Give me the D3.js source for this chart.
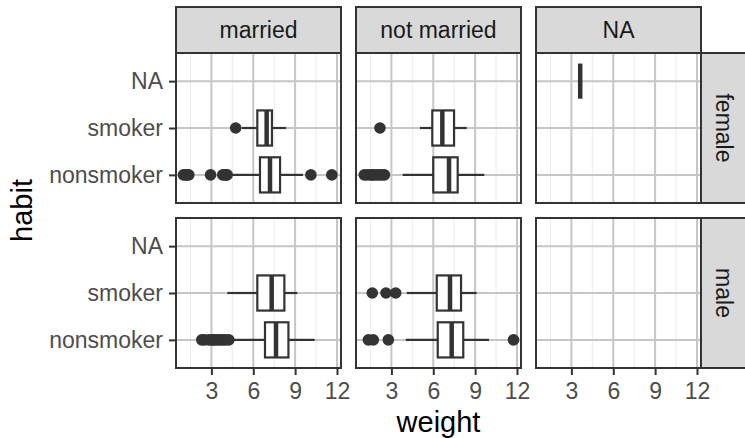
<!DOCTYPE html>
<html>
<head>
<meta charset="utf-8">
<script src="https://cdn.jsdelivr.net/npm/d3@7"></script>
<style>
body { margin: 0; background: #fff; }
svg { display: block; font-family: "Liberation Sans", Arial, sans-serif; }
</style>
</head>
<body>
<svg width="745" height="438"></svg>
<script>
const maritals = ["married", "not married", "NA"];
const genders = ["female", "male"];
const habits = ["nonsmoker", "smoker", "NA"];
const xTicks = [3, 6, 9, 12];
const xMinorTicks = [1.5, 4.5, 7.5, 10.5];
const weightRange = [1, 11.75];

// [gender, marital, habit, lower whisker, q1, median, q3, upper whisker]
const boxStats = [
    ["female", "married", "nonsmoker", 4.31, 6.48, 7.2, 7.92, 9.56],
    ["female", "married", "smoker", 5.19, 6.29, 6.96, 7.34, 8.35],
    ["female", "not married", "nonsmoker", 3.81, 6.0, 7.13, 7.75, 9.66],
    ["female", "not married", "smoker", 5.05, 5.93, 6.65, 7.49, 8.4],
    ["female", "NA", "NA", 3.63, 3.63, 3.63, 3.63, 3.63],
    ["male", "married", "nonsmoker", 4.56, 6.84, 7.63, 8.52, 10.4],
    ["male", "married", "smoker", 4.14, 6.29, 7.32, 8.23, 9.16],
    ["male", "not married", "nonsmoker", 4.03, 6.32, 7.32, 8.15, 10.0],
    ["male", "not married", "smoker", 4.1, 6.25, 7.2, 7.99, 9.11]
];

// outlying points: [gender, marital, habit, weights]
const outliers = [
    ["female", "married", "nonsmoker", [1, 1.13, 1.25, 1.38, 2.94, 3.81, 3.94, 4.06, 4.13, 10.13, 11.63]],
    ["female", "married", "smoker", [4.74]],
    ["female", "not married", "nonsmoker", [1.06, 1.25, 1.5, 1.63, 1.75, 1.94, 2.13, 2.31, 2.5]],
    ["female", "not married", "smoker", [2.18]],
    ["male", "married", "nonsmoker", [2.31, 2.5, 2.81, 3.0, 3.13, 3.25, 3.44, 3.63, 3.81, 4.0, 4.25]],
    ["male", "not married", "nonsmoker", [1.35, 1.7, 2.78, 11.75]],
    ["male", "not married", "smoker", [1.63, 2.61, 3.31]]
];

const svg = d3.select("svg");
const panelW = 165, panelH = 150, gap = 15;
const panelLeft = 176, panelTop = 53, stripH = 46;

const pad = (weightRange[1] - weightRange[0]) * 0.05;
const x = d3.scaleLinear()
    .domain([weightRange[0] - pad, weightRange[1] + pad])
    .range([0, panelW]);
const y = d3.scalePoint()
    .domain(habits)
    .range([panelH, 0])
    .padding(0.6);
const boxH = y.step() * 0.75;

const dark = "#333333";

genders.forEach((g, r) => {
    maritals.forEach((m, c) => {
        const px = panelLeft + c * (panelW + gap);
        const py = panelTop + r * (panelH + gap);
        const p = svg.append("g").attr("transform", `translate(${px},${py})`);

        // grid
        p.selectAll(".minor").data(xMinorTicks).enter().append("line")
            .attr("x1", d => x(d)).attr("x2", d => x(d))
            .attr("y1", 0).attr("y2", panelH)
            .attr("stroke", "#ebebeb").attr("stroke-width", 1);
        p.selectAll(".vmajor").data(xTicks).enter().append("line")
            .attr("x1", d => x(d)).attr("x2", d => x(d))
            .attr("y1", 0).attr("y2", panelH)
            .attr("stroke", "#c6c6c6").attr("stroke-width", 2);
        p.selectAll(".hmajor").data(habits).enter().append("line")
            .attr("x1", 0).attr("x2", panelW)
            .attr("y1", d => y(d)).attr("y2", d => y(d))
            .attr("stroke", "#c6c6c6").attr("stroke-width", 2);

        // boxes
        const boxes = boxStats.filter(b => b[0] === g && b[1] === m);
        boxes.forEach(b => {
            const cy = y(b[2]);
            p.append("line")
                .attr("x1", x(b[3])).attr("x2", x(b[4]))
                .attr("y1", cy).attr("y2", cy)
                .attr("stroke", dark).attr("stroke-width", 2.2);
            p.append("line")
                .attr("x1", x(b[6])).attr("x2", x(b[7]))
                .attr("y1", cy).attr("y2", cy)
                .attr("stroke", dark).attr("stroke-width", 2.2);
            p.append("rect")
                .attr("x", x(b[4])).attr("width", x(b[6]) - x(b[4]))
                .attr("y", cy - boxH / 2).attr("height", boxH)
                .attr("fill", "#fff").attr("stroke", dark).attr("stroke-width", 2.2);
            p.append("line")
                .attr("x1", x(b[5])).attr("x2", x(b[5]))
                .attr("y1", cy - boxH / 2).attr("y2", cy + boxH / 2)
                .attr("stroke", dark).attr("stroke-width", 4.5);
        });

        // outlier points
        outliers.filter(o => o[0] === g && o[1] === m).forEach(o => {
            p.selectAll(null).data(o[3]).enter().append("circle")
                .attr("cx", d => x(d)).attr("cy", y(o[2]))
                .attr("r", 5.8).attr("fill", dark);
        });

        // border
        p.append("rect")
            .attr("width", panelW).attr("height", panelH)
            .attr("fill", "none").attr("stroke", dark).attr("stroke-width", 2);

        // top strips
        if (r === 0) {
            const s = svg.append("g").attr("transform", `translate(${px},${panelTop - stripH})`);
            s.append("rect").attr("width", panelW).attr("height", stripH)
                .attr("fill", "#d9d9d9").attr("stroke", dark).attr("stroke-width", 2);
            s.append("text").attr("x", panelW / 2).attr("y", stripH / 2).attr("dy", "0.35em")
                .attr("text-anchor", "middle").attr("font-size", 23).attr("fill", "#1a1a1a")
                .text(m);
        }

        // right strips
        if (c === maritals.length - 1) {
            const s = svg.append("g").attr("transform", `translate(${px + panelW},${py})`);
            s.append("rect").attr("width", stripH).attr("height", panelH)
                .attr("fill", "#d9d9d9").attr("stroke", dark).attr("stroke-width", 2);
            s.append("text")
                .attr("transform", `translate(${stripH / 2},${panelH / 2}) rotate(90)`)
                .attr("dy", "0.35em")
                .attr("text-anchor", "middle").attr("font-size", 23).attr("fill", "#1a1a1a")
                .text(g);
        }

        // axes
        if (r === genders.length - 1) {
            const ax = svg.append("g")
                .attr("transform", `translate(${px},${py + panelH})`)
                .call(d3.axisBottom(x).tickValues(xTicks).tickSize(7).tickPadding(8));
            styleAxis(ax);
        }
        if (c === 0) {
            const ay = svg.append("g")
                .attr("transform", `translate(${px},${py})`)
                .call(d3.axisLeft(y).tickSize(7).tickPadding(6));
            styleAxis(ay);
        }
    });
});

function styleAxis(a) {
    a.select(".domain").remove();
    a.selectAll(".tick line").attr("stroke", dark).attr("stroke-width", 2);
    a.selectAll(".tick text").attr("font-size", 23).attr("fill", "#4d4d4d")
        .attr("font-family", "Liberation Sans, Arial, sans-serif");
}

const plotMidX = panelLeft + (3 * panelW + 2 * gap) / 2;
const plotMidY = panelTop + (2 * panelH + gap) / 2;

svg.append("text")
    .attr("x", plotMidX).attr("y", 432)
    .attr("text-anchor", "middle").attr("font-size", 29).attr("fill", "#000")
    .text("weight");

svg.append("text")
    .attr("transform", `translate(32,${plotMidY}) rotate(-90)`)
    .attr("text-anchor", "middle").attr("font-size", 29).attr("fill", "#000")
    .text("habit");
</script>
</body>
</html>
